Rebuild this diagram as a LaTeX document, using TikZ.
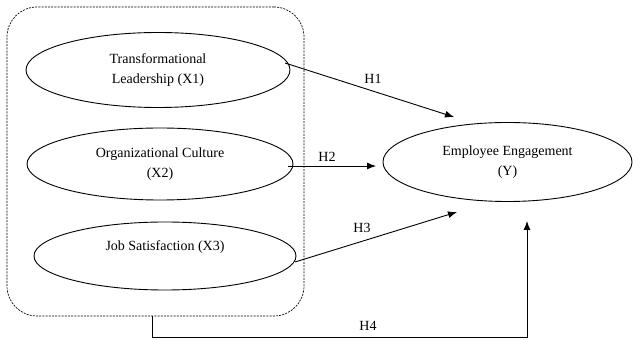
\documentclass[tikz,border=0pt]{standalone}
\usepackage{fontspec}
\setmainfont{Liberation Serif}
\usetikzlibrary{arrows.meta,shapes.geometric}
\begin{document}
\begin{tikzpicture}[x=1pt,y=1pt,
  var/.style={draw, line width=0.9pt, ellipse, inner sep=0pt, align=center,
    font=\fontsize{14}{20}\selectfont},
  grp/.style={draw, dashed, dash pattern=on 2pt off 1.2pt, line width=0.7pt, rounded corners=30pt},
  arr/.style={line width=0.9pt, -{Latex[length=9pt,width=7pt]}},
  hlab/.style={font=\fontsize{14}{16}\selectfont, inner sep=0pt}]
\useasboundingbox (0,0) rectangle (633,340);
\node[grp, minimum width=297pt, minimum height=309pt] (box) at (155.5,178.5) {};
\node[var, minimum width=264pt, minimum height=75pt] (e1) at (158,270) {Transformational\\Leadership (X1)};
\node[var, minimum width=266pt, minimum height=72pt] (e2) at (160,176) {Organizational Culture\\(X2)};
\node[var, minimum width=262pt, minimum height=68pt] (e3) at (165,84) {Job Satisfaction (X3)\\\mbox{}};
\node[var, minimum width=249pt, minimum height=79pt] (y) at (507.5,178) {Employee Engagement\\(Y)};
\coordinate (h1s) at (285,277);
\coordinate (h1e) at (454,223);
\coordinate (h2s) at (288,174);
\coordinate (h2e) at (376,174);
\coordinate (h3s) at (295,78);
\coordinate (h3e) at (457,128);
\coordinate (h4a) at (152,3);
\coordinate (h4b) at (527,3);
\coordinate (h4e) at (527,119);
\draw[arr] (h1s) -- (h1e);
\draw[arr] (h2s) -- (h2e);
\draw[arr] (h3s) -- (h3e);
\draw[arr] (box.south -| h4a) -- (h4a) -- (h4b) -- (h4e);
\node[hlab] (l1) at (373,261) {H1};
\node[hlab] (l2) at (327,183) {H2};
\node[hlab] (l3) at (362,112) {H3};
\node[hlab] (l4) at (368,14) {H4};
\end{tikzpicture}
\end{document}
